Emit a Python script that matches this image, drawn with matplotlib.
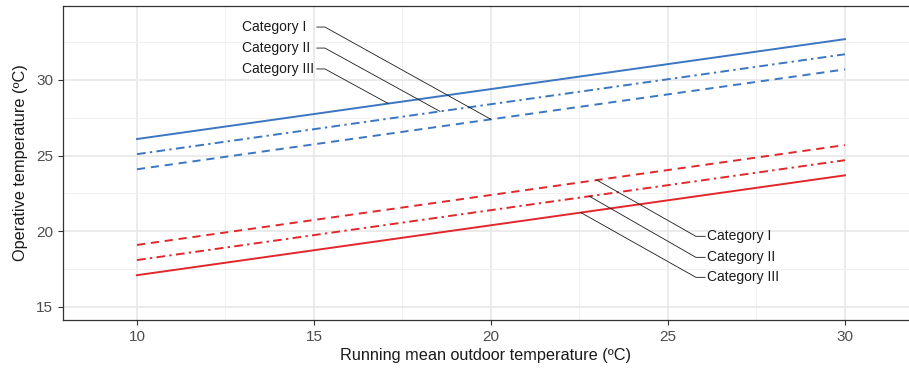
import matplotlib
matplotlib.use('Agg')
import matplotlib.pyplot as plt
import numpy as np

plt.rcParams['font.family'] = ['Liberation Sans', 'DejaVu Sans']

# ── data ─────────────────────────────────────────────
t_out = [10, 30]
upper_cat1 = [24.1, 30.7]
upper_cat2 = [25.1, 31.7]
upper_cat3 = [26.1, 32.7]
lower_cat1 = [19.1, 25.7]
lower_cat2 = [18.1, 24.7]
lower_cat3 = [17.1, 23.7]
categories = ['Category I', 'Category II', 'Category III']

BLUE = '#3b76c2'
RED = '#e0272c'
DASHED = (0, (4.2, 3.0))
DASHDOT = (0, (4.5, 2.2, 1.2, 2.2))

fig = plt.figure(figsize=(9.09, 3.72), dpi=100)
fig.patch.set_facecolor('white')
W, H = 909, 372
ax = fig.add_axes([63 / W, (H - 320) / H, 1 - 63 / W, (320 - 6) / H])

ax.set_xlim(7.91, 31.81)
ax.set_ylim(14.14, 34.89)

# grid
ax.set_xticks([10, 15, 20, 25, 30])
ax.set_yticks([15, 20, 25, 30])
ax.set_xticks([12.5, 17.5, 22.5, 27.5], minor=True)
ax.set_yticks([17.5, 22.5, 27.5, 32.5], minor=True)
ax.grid(True, which='major', color='#e8e8e8', lw=1.2, zorder=0)
ax.grid(True, which='minor', color='#f0f0f0', lw=0.7, zorder=0)
ax.tick_params(which='minor', length=0)
ax.tick_params(which='major', length=3.5, width=0.8, color='#333333',
               labelsize=11, labelcolor='#4d4d4d', pad=3.5)

for s in ['left', 'bottom', 'top']:
    ax.spines[s].set_color('#333333')
    ax.spines[s].set_linewidth(0.9)
ax.spines['right'].set_visible(False)

lw = 1.4
ax.plot(t_out, upper_cat3, color=BLUE, lw=lw, zorder=3)
ax.plot(t_out, upper_cat2, color=BLUE, lw=lw, ls=DASHDOT, zorder=3)
ax.plot(t_out, upper_cat1, color=BLUE, lw=lw, ls=DASHED, zorder=3)
ax.plot(t_out, lower_cat1, color=RED, lw=lw, ls=DASHED, zorder=3)
ax.plot(t_out, lower_cat2, color=RED, lw=lw, ls=DASHDOT, zorder=3)
ax.plot(t_out, lower_cat3, color=RED, lw=lw, zorder=3)

# ── labels with leader lines ─────────────────────────
upper_sets = [upper_cat1, upper_cat2, upper_cat3]
upper_anchor_x = [20.0, 18.56, 17.1]
upper_label_y = [33.5, 32.11, 30.73]
for name, ys, ax_x, ly in zip(categories, upper_sets, upper_anchor_x, upper_label_y):
    ay = np.interp(ax_x, t_out, ys)
    ax.plot([15.08, 15.31, ax_x], [ly, ly, ay], color='#1a1a1a', lw=0.6, zorder=4)
    ax.text(12.97, ly, name, ha='left', va='center', fontsize=10, color='#1a1a1a', zorder=5)

lower_sets = [lower_cat1, lower_cat2, lower_cat3]
lower_anchor_x = [22.99, 22.78, 22.54]
lower_label_y = [19.67, 18.28, 16.96]
for name, ys, ax_x, ly in zip(categories, lower_sets, lower_anchor_x, lower_label_y):
    ay = np.interp(ax_x, t_out, ys)
    ax.plot([26.05, 25.79, ax_x], [ly, ly, ay], color='#1a1a1a', lw=0.6, zorder=4)
    ax.text(26.1, ly, name, ha='left', va='center', fontsize=10, color='#1a1a1a', zorder=5)

ax.set_xlabel('Running mean outdoor temperature (ºC)', fontsize=11.7, color='#1a1a1a', labelpad=3)
ax.set_ylabel('Operative temperature (ºC)', fontsize=11.7, color='#1a1a1a', labelpad=6)

fig.savefig('out.png', dpi=100, facecolor='white')
